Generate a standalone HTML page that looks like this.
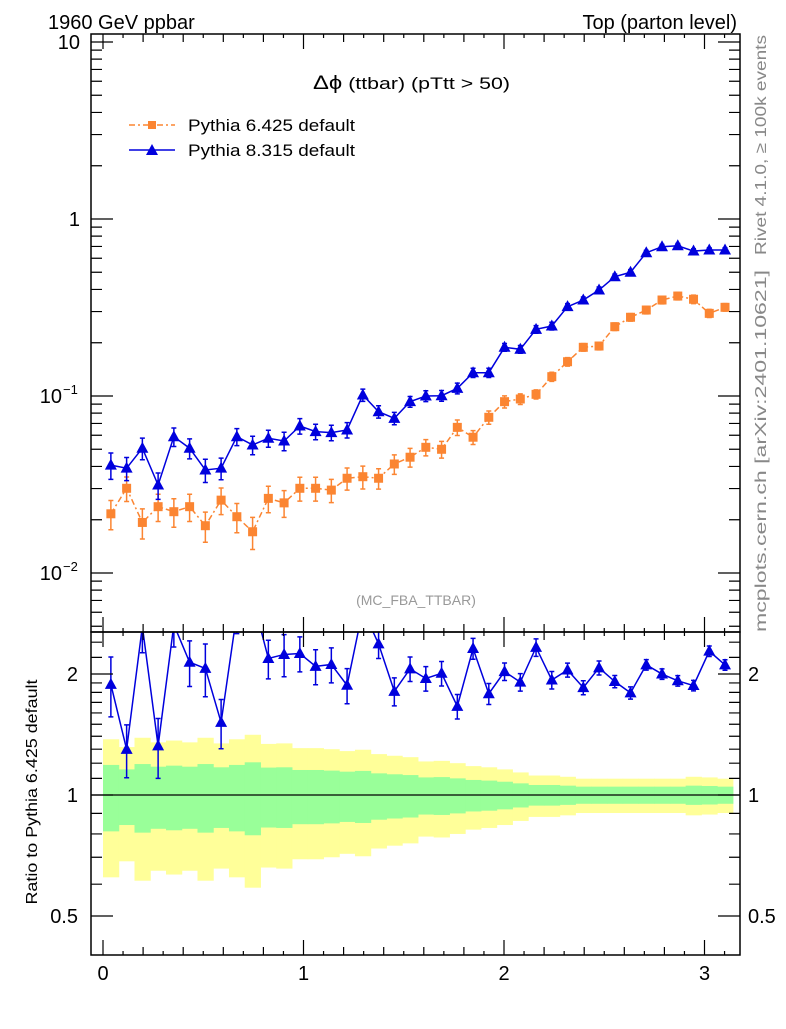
<!DOCTYPE html>
<html><head><meta charset="utf-8"><style>
body{margin:0;background:#fff;}
svg text{font-family:"Liberation Sans",sans-serif;}
</style></head><body>
<svg id="c" width="786" height="1024" viewBox="0 0 786 1024" xmlns="http://www.w3.org/2000/svg">
<defs>
<clipPath id="mainclip"><rect x="91" y="34" width="649" height="598"/></clipPath>
<clipPath id="ratioclip"><rect x="91" y="632" width="649" height="323"/></clipPath>
</defs>
<rect x="0" y="0" width="786" height="1024" fill="#fff"/>
<g id="ratio-bands" clip-path="url(#ratioclip)"></g>
<g id="main-series" clip-path="url(#mainclip)"></g>
<g id="ratio-series" clip-path="url(#ratioclip)"></g>
<g id="axes"></g>
<text x="48" y="29" font-size="20">1960 GeV ppbar</text>
<text x="737" y="29" font-size="20" text-anchor="end">Top (parton level)</text>
<text x="313" y="89" font-size="17" textLength="197" lengthAdjust="spacingAndGlyphs"><tspan font-size="19">Δϕ</tspan> (ttbar) (pTtt &gt; 50)</text>
<text x="416" y="605" font-size="14" fill="#999" text-anchor="middle">(MC_FBA_TTBAR)</text>
<g>
<g>
<line x1="129" y1="125" x2="175" y2="125" stroke="#fb8532" stroke-width="1.5" stroke-dasharray="6,3,2,3"/>
<rect x="148" y="121" width="8" height="8" fill="#fb8532"/>
<text x="188" y="131" font-size="17" textLength="167" lengthAdjust="spacingAndGlyphs">Pythia 6.425 default</text></g>
<g>
<line x1="129" y1="150" x2="175" y2="150" stroke="#0000dd" stroke-width="1.5"/>
<polygon points="152,144 158,155 146,155" fill="#0000dd"/>
<text x="188" y="156" font-size="17" textLength="167" lengthAdjust="spacingAndGlyphs">Pythia 8.315 default</text></g>
</g>
<text transform="translate(766,145) rotate(-90)" font-size="16" fill="#888" text-anchor="middle" textLength="220" lengthAdjust="spacingAndGlyphs">Rivet 4.1.0, ≥ 100k events</text>
<text transform="translate(766,451) rotate(-90)" font-size="16" fill="#888" text-anchor="middle" textLength="362" lengthAdjust="spacingAndGlyphs">mcplots.cern.ch [arXiv:2401.10621]</text>
<text transform="translate(37,792) rotate(-90)" font-size="16" text-anchor="middle" textLength="225" lengthAdjust="spacingAndGlyphs">Ratio to Pythia 6.425 default</text>
</svg>
<script>
const p6 = [0.0216,0.0301,0.0193,0.0237,0.0222,0.0237,0.0185,0.0258,0.0208,0.0171,0.0264,0.0249,0.0301,0.0301,0.0294,0.0343,0.0350,0.0343,0.0413,0.0451,0.0513,0.0500,0.0665,0.0585,0.0758,0.0929,0.0962,0.1022,0.1286,0.1562,0.1884,0.1916,0.2464,0.2785,0.306,0.3486,0.367,0.352,0.293,0.317];
const p8 = [0.0407,0.0391,0.0507,0.0314,0.0589,0.0507,0.0382,0.0391,0.0589,0.0529,0.0577,0.0557,0.0677,0.0629,0.0621,0.0643,0.1013,0.0815,0.0748,0.0929,0.1000,0.1004,0.1105,0.1354,0.1354,0.1884,0.1836,0.2381,0.2485,0.3196,0.3485,0.397,0.472,0.500,0.645,0.697,0.706,0.659,0.668,0.668];
const p6RelErr = [0.188,0.158,0.194,0.176,0.183,0.176,0.194,0.172,0.188,0.206,0.170,0.172,0.154,0.154,0.150,0.143,0.148,0.132,0.126,0.121,0.106,0.108,0.100,0.090,0.086,0.079,0.069,0.059,0.059,0.055,0.049,0.049,0.049,0.049,0.049,0.049,0.049,0.055,0.053,0.049];
const p8RelErr = [0.17,0.15,0.14,0.17,0.12,0.13,0.15,0.14,0.11,0.12,0.11,0.12,0.10,0.10,0.10,0.10,0.08,0.08,0.08,0.07,0.07,0.07,0.07,0.06,0.06,0.05,0.05,0.05,0.05,0.04,0.04,0.04,0.035,0.035,0.03,0.03,0.03,0.03,0.03,0.03];
const xTicks = [0,1,2,3];
const mainYTicks = [10,1,0.1,0.01];
const ratioYTicks = [2,1,0.5];
const ratioMinor = [0.6,0.7,0.8,0.9,1.1,1.2,1.3,1.4,1.5,1.6,1.7,1.8,1.9,2.2,2.4];
const nBins = 40, xMin = 0, xMax = Math.PI;

const NS='http://www.w3.org/2000/svg';
const FR=740;
function X(v){return 103 + v*200.5;}
function Ym(v){return 396 - (Math.log10(v)+1)*177;}
function Yr(v){return 795 - Math.log2(v)*121;}
function mk(tag,attrs,parent){const e=document.createElementNS(NS,tag);for(const k in attrs)e.setAttribute(k,attrs[k]);parent.appendChild(e);return e;}
const bw=(xMax-xMin)/nBins;
const mainG=document.getElementById('main-series');
const ratioG=document.getElementById('ratio-series');
const bandG=document.getElementById('ratio-bands');
const axG=document.getElementById('axes');

for(let i=0;i<nBins;i++){
  const x0=X(xMin+i*bw), x1=X(xMin+(i+1)*bw), e=p6RelErr[i];
  const y=mk('rect',{x:x0,y:Yr(1+2*e),width:x1-x0+0.5,height:Yr(Math.max(1-2*e,0.01))-Yr(1+2*e),fill:'#ffff99'},bandG);
  
  
}
for(let i=0;i<nBins;i++){
  const x0=X(xMin+i*bw), x1=X(xMin+(i+1)*bw), e=p6RelErr[i];
  const g=mk('rect',{x:x0,y:Yr(1+e),width:x1-x0+0.5,height:Yr(1-e)-Yr(1+e),fill:'#99ff99'},bandG);
  
  
}
const one=mk('line',{x1:91,x2:FR,y1:Yr(1),y2:Yr(1),stroke:'#000','stroke-width':1.2},bandG);



function series(g,vals,errs,yf,color,dash,marker,name){
  const pts=vals.map((v,i)=>[X(xMin+(i+0.5)*bw),yf(v)]);
  const pl=mk('polyline',{points:pts.map(p=>p.join(',')).join(' '),fill:'none',stroke:color,'stroke-width':1.5},g);
  if(dash)pl.setAttribute('stroke-dasharray',dash);
  
  
  vals.forEach((v,i)=>{
    const x=pts[i][0],yh=yf(v*(1+errs[i])),yl=yf(v*(1-errs[i]));
    const eb=mk('path',{d:`M${x},${yh}V${yl}M${x-2.5},${yh}H${x+2.5}M${x-2.5},${yl}H${x+2.5}`,stroke:color,'stroke-width':1.5,fill:'none'},g);
    
    
    const y=pts[i][1];
    let m;
    if(marker==='sq') m=mk('rect',{x:x-4.5,y:y-4.5,width:9,height:9,fill:color},g);
    else m=mk('polygon',{points:`${x},${y-6.5} ${x+6},${y+4.5} ${x-6},${y+4.5}`,fill:color},g);
    
    
  });
}
series(mainG,p6,p6RelErr,Ym,'#fb8532','6,3,2,3','sq','pythia6');
series(mainG,p8,p8RelErr,Ym,'#0000dd',null,'tri','pythia8');
const ratio=p8.map((v,i)=>v/p6[i]);
series(ratioG,ratio,p8RelErr,Yr,'#0000dd',null,'tri','ratio-pythia8');

[[34,632],[632,955]].forEach(([t,b],k)=>{
  const f=mk('rect',{x:91,y:t,width:FR-91,height:b-t,fill:'none',stroke:'#000','stroke-width':1.5},axG);
  
  
  for(let j=0;j<=31;j++){
    const L=j%10===0?15:(j%2===0?8:4);
    const x=X(j/10);
    const tk=mk('path',{d:`M${x},${b}v${-L}M${x},${t}v${L}`,stroke:'#000','stroke-width':1.2},axG);
    
    
  }
});
xTicks.forEach(v=>{
  const t=mk('text',{x:X(v),y:980,'font-size':20,'text-anchor':'middle'},axG);t.textContent=v;
  
  
});
for(let d=-3;d<=1;d++){
  for(let m=1;m<10;m++){
    const v=m*Math.pow(10,d), y=Ym(v);
    if(y<34||y>632)continue;
    const L=m===1?22:11;
    const tk=mk('path',{d:`M91,${y}h${L}M${FR},${y}h${-L}`,stroke:'#000','stroke-width':1.2},axG);
    
    
  }
}
const ylab=['10','1','10','10'], ysup=['','','−1','−2'];
mainYTicks.forEach((v,i)=>{
  const y=Ym(v)+7;
  const t=mk('text',{x:ysup[i]?62:80,y:y,'font-size':20,'text-anchor':'end'},axG);t.textContent=ylab[i];
  
  
  if(ysup[i]){const s=mk('text',{x:63,y:y-9,'font-size':13},axG);s.textContent=ysup[i];
  
  }
});
ratioYTicks.concat(ratioMinor).forEach((v,i)=>{
  const y=Yr(v), L=i<ratioYTicks.length?22:11;
  const tk=mk('path',{d:`M91,${y}h${L}M${FR},${y}h${-L}`,stroke:'#000','stroke-width':1.2},axG);
  
  
});
ratioYTicks.forEach(v=>{
  const y=Yr(v)+7;
  const a=mk('text',{x:78,y:y,'font-size':20,'text-anchor':'end'},axG);a.textContent=v;
  
  
  const b=mk('text',{x:748,y:y,'font-size':20},axG);b.textContent=v;
  
  
});
</script>
</body></html>
